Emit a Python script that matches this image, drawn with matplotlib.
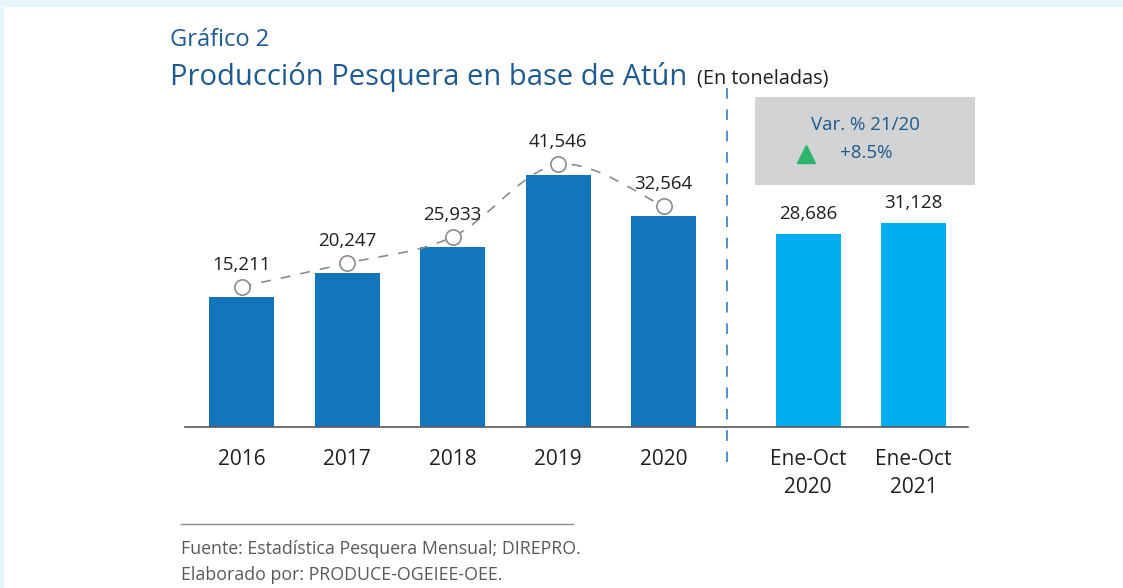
import matplotlib
matplotlib.use('Agg')
import matplotlib.pyplot as plt
from matplotlib.path import Path
from matplotlib.patches import PathPatch, Rectangle

plt.rcParams['font.family'] = ['Open Sans', 'DejaVu Sans']

# data
categories = ['2016', '2017', '2018', '2019', '2020', 'Ene-Oct\n2020', 'Ene-Oct\n2021']
values = [15211, 20247, 25933, 41546, 32564, 28686, 31128]
n_annual = 5
var_title = 'Var. % 21/20'
var_value = '+8.5%'

W, H = 1123, 588
def fx(px):
    return px / W
def fy(py):
    return 1 - py / H

fig = plt.figure(figsize=(W / 100, H / 100), dpi=100, facecolor='#e6f5fc')
fig.patches.append(Rectangle((fx(4), 0), 1, 1 - 7 / H, transform=fig.transFigure,
                             facecolor='white', edgecolor='none', zorder=-5))

# axes: baseline at y=427px, axis line from x=185 to 968
ax = fig.add_axes([fx(185), fy(427), fx(968) - fx(185), fy(90) - fy(427)])
ax.set_facecolor('none')
ax.set_zorder(2)
pos = [0, 1, 2, 3, 4, 5.37, 6.37]
ax.set_xlim(-0.536, 6.886)
ylo, yhi = -12850, 59800
ax.set_ylim(ylo, yhi)

cols = ['#1375bc'] * n_annual + ['#00adef'] * (len(values) - n_annual)
ax.bar(pos, [v - ylo for v in values], bottom=ylo, width=0.616, color=cols, zorder=2)

for s in ['top', 'right', 'left']:
    ax.spines[s].set_visible(False)
ax.spines['bottom'].set_color('#58595b')
ax.spines['bottom'].set_linewidth(1.2)
ax.set_yticks([])
ax.set_xticks(pos)
ax.set_xticklabels(categories, fontsize=15, color='#231f20', linespacing=1.45)
ax.tick_params(axis='x', length=0, pad=16)

# trend curve over annual bars (smooth, dashed)
off = 2200
px_ = pos[:n_annual]
py_ = [v + off for v in values[:n_annual]]
pts = list(zip(px_, py_))
verts = [pts[0]]
codes = [Path.MOVETO]
for i in range(len(pts) - 1):
    p0 = pts[i - 1] if i > 0 else pts[i]
    p1 = pts[i]
    p2 = pts[i + 1]
    p3 = pts[i + 2] if i + 2 < len(pts) else pts[i + 1]
    c1 = (p1[0] + (p2[0] - p0[0]) / 6, p1[1] + (p2[1] - p0[1]) / 6)
    c2 = (p2[0] - (p3[0] - p1[0]) / 6, p2[1] - (p3[1] - p1[1]) / 6)
    verts += [c1, c2, p2]
    codes += [Path.CURVE4] * 3
ax.add_patch(PathPatch(Path(verts, codes), facecolor='none', edgecolor='#8c8c8c',
                       lw=1.2, linestyle=(0, (6, 6)), zorder=3))
ax.plot(px_, py_, 'o', ms=11, mfc='white', mec='#8c8c8c', mew=1.2, zorder=4)

for i, (x, v) in enumerate(zip(pos, values)):
    y = v + off if i < n_annual else v
    dy = 22 if i < n_annual else 20
    ax.annotate(f'{v:,}', (x, y), xytext=(0, dy), textcoords='offset pixels',
                ha='center', va='center', fontsize=13.5, color='#231f20', zorder=5)

# separator
fig.add_artist(plt.Line2D([fx(727), fx(727)], [fy(88), fy(462)], color='#2a72b5',
                          lw=1.1, linestyle=(0, (7, 7))))

# variation box
fig.patches.append(Rectangle((fx(755), fy(185)), fx(975) - fx(755), fy(97) - fy(185),
                             transform=fig.transFigure, facecolor='#d1d3d4',
                             edgecolor='none', zorder=1))
fig.text(fx(865), fy(125), var_title, ha='center', va='center', fontsize=13.5, color='#1d5a8c')
fig.text(fx(866), fy(153), var_value, ha='center', va='center', fontsize=13.5, color='#1d5a8c')
fig.add_artist(plt.Line2D([fx(806)], [fy(154)], marker='^', ms=13, color='#2db46e', lw=0))

# titles
fig.text(fx(170), fy(46), 'Gráfico 2', fontsize=17, color='#1f5b90', va='baseline')
fig.text(fx(170), fy(85), 'Producción Pesquera en base de Atún', fontsize=21,
         color='#1f5b90', va='baseline')
fig.text(fx(697), fy(84), '(En toneladas)', fontsize=14.3, color='#231f20', va='baseline')

# footer
fig.add_artist(plt.Line2D([fx(181), fx(573)], [fy(524), fy(524)], color='#8a8a8a', lw=1.0))
fig.text(fx(181), fy(549), 'Fuente: Estadística Pesquera Mensual; DIREPRO.', fontsize=12.8,
         color='#58595b', va='center')
fig.text(fx(181), fy(575), 'Elaborado por: PRODUCE-OGEIEE-OEE.', fontsize=12.8,
         color='#58595b', va='center')

fig.savefig('out.png', dpi=100, facecolor=fig.get_facecolor())
